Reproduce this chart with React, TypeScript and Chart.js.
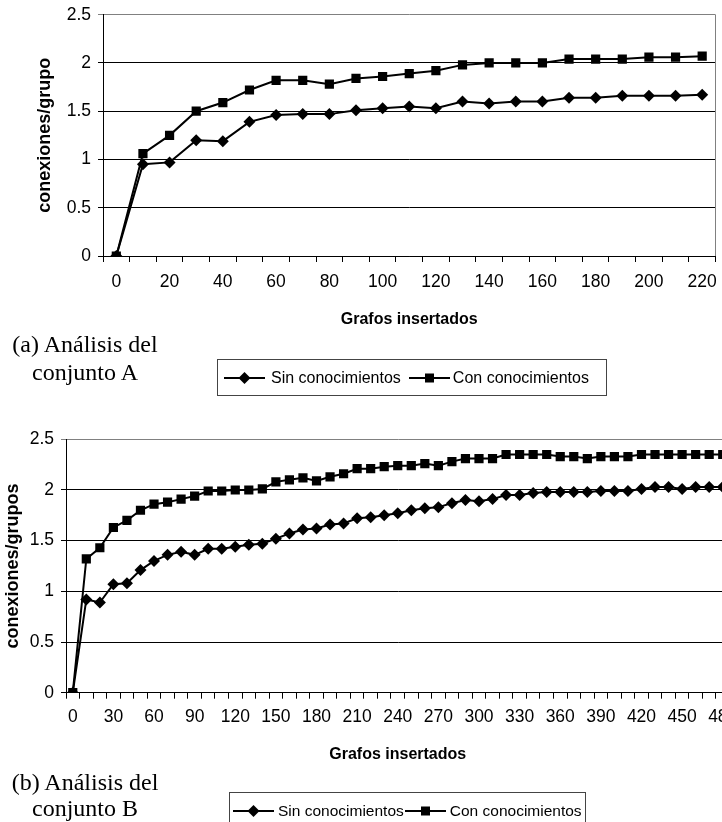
import React, { useEffect, useRef } from "react";
import { Chart, registerables } from "chart.js";

Chart.register(...registerables);

// ---------- data ----------
const categoriesA = [0, 10, 20, 30, 40, 50, 60, 70, 80, 90, 100, 110, 120, 130, 140, 150, 160, 170, 180, 190, 200, 210, 220];
const sinA = [0, 0.95, 0.97, 1.2, 1.19, 1.39, 1.46, 1.47, 1.47, 1.51, 1.53, 1.55, 1.53, 1.6, 1.58, 1.6, 1.6, 1.64, 1.64, 1.66, 1.66, 1.66, 1.67];
const conA = [0, 1.06, 1.25, 1.5, 1.59, 1.72, 1.82, 1.82, 1.78, 1.84, 1.86, 1.89, 1.92, 1.98, 2.0, 2.0, 2.0, 2.04, 2.04, 2.04, 2.06, 2.06, 2.07];

const categoriesB = [0, 10, 20, 30, 40, 50, 60, 70, 80, 90, 100, 110, 120, 130, 140, 150, 160, 170, 180, 190, 200, 210, 220, 230, 240, 250, 260, 270, 280, 290, 300, 310, 320, 330, 340, 350, 360, 370, 380, 390, 400, 410, 420, 430, 440, 450, 460, 470, 480];
const sinB = [0, 0.92, 0.89, 1.07, 1.08, 1.21, 1.3, 1.36, 1.39, 1.36, 1.42, 1.42, 1.44, 1.46, 1.47, 1.52, 1.57, 1.61, 1.62, 1.66, 1.67, 1.72, 1.73, 1.75, 1.77, 1.8, 1.82, 1.83, 1.87, 1.9, 1.89, 1.91, 1.95, 1.95, 1.97, 1.98, 1.98, 1.98, 1.98, 1.99, 1.99, 1.99, 2.01, 2.03, 2.03, 2.01, 2.03, 2.03, 2.03];
const conB = [0, 1.32, 1.43, 1.63, 1.7, 1.8, 1.86, 1.88, 1.91, 1.94, 1.99, 1.99, 2.0, 2.0, 2.01, 2.08, 2.1, 2.12, 2.09, 2.13, 2.16, 2.21, 2.21, 2.23, 2.24, 2.24, 2.26, 2.24, 2.28, 2.31, 2.31, 2.31, 2.35, 2.35, 2.35, 2.35, 2.33, 2.33, 2.31, 2.33, 2.33, 2.33, 2.35, 2.35, 2.35, 2.35, 2.35, 2.35, 2.35];

const yMin = 0;
const yMax = 2.5;
const yStep = 0.5;
const seriesNames = ["Sin conocimientos", "Con conocimientos"];
const xTitle = "Grafos insertados";
const yTitleA = "conexiones/grupo";
const yTitleB = "conexiones/grupos";
const captionA = ["(a) Análisis del", "conjunto A"];
const captionB = ["(b) Análisis del", "conjunto B"];

const SANS = "'Liberation Sans', Arial, Helvetica, sans-serif";
const NARROW = "'Liberation Sans Narrow', 'Arial Narrow', 'Liberation Sans', Arial, sans-serif";
const SERIF = "'Liberation Serif', 'Times New Roman', Times, serif";

const frameBorder = {
  id: "frameBorder",
  beforeDatasetsDraw(chart: any) {
    const { ctx, chartArea } = chart;
    ctx.save();
    ctx.strokeStyle = "#808080";
    ctx.lineWidth = 1;
    const x = Math.floor(chartArea.right) + 0.5;
    ctx.beginPath();
    ctx.moveTo(x, chartArea.top);
    ctx.lineTo(x, chartArea.bottom);
    ctx.stroke();
    ctx.restore();
  },
};

type PanelProps = {
  labels: number[];
  sin: number[];
  con: number[];
  width: number;
  height: number;
  top: number;
  pad: { top: number; right: number; bottom: number; left: number };
  yWidth: number;
  xHeight: number;
  every: number;
  yTitle: string;
  yTitlePad: number;
  xTickPad: number;
  tickSize: number;
};

function Panel(p: PanelProps) {
  const ref = useRef<HTMLCanvasElement | null>(null);
  useEffect(() => {
    if (!ref.current) return;
    const chart = new Chart(ref.current, {
      type: "line",
      data: {
        labels: p.labels.map(String),
        datasets: [
          {
            label: seriesNames[0],
            data: p.sin,
            borderColor: "#000",
            backgroundColor: "#000",
            borderWidth: 2,
            pointStyle: "rectRot",
            pointRadius: 6,
            pointBorderWidth: 0,
            pointBackgroundColor: "#000",
            tension: 0,
          },
          {
            label: seriesNames[1],
            data: p.con,
            borderColor: "#000",
            backgroundColor: "#000",
            borderWidth: 2,
            pointStyle: "rect",
            pointRadius: 6.5,
            pointBorderWidth: 0,
            pointBackgroundColor: "#000",
            tension: 0,
          },
        ],
      },
      options: {
        animation: false,
        responsive: false,
        maintainAspectRatio: false,
        layout: { padding: p.pad },
        plugins: { legend: { display: false }, tooltip: { enabled: false } },
        scales: {
          x: {
            type: "category",
            offset: true,
            grid: {
              display: true,
              drawOnChartArea: false,
              drawTicks: true,
              tickLength: 6,
              offset: true,
              color: "#000",
              lineWidth: 1,
            },
            border: { display: true, color: "#000", width: 1 },
            ticks: {
              autoSkip: false,
              maxRotation: 0,
              minRotation: 0,
              padding: p.xTickPad,
              color: "#000",
              font: { family: NARROW, size: p.tickSize },
              callback: (_v: any, i: number) => (i % p.every === 0 ? String(p.labels[i]) : ""),
            },
            title: {
              display: true,
              text: xTitle,
              color: "#000",
              font: { family: SANS, size: 16, weight: "bold" },
              padding: { top: 4, bottom: 4 },
            },
            afterFit: (s: any) => {
              s.height = p.xHeight;
              s.paddingLeft = 0;
              s.paddingRight = 0;
            },
          },
          y: {
            min: yMin,
            max: yMax,
            ticks: {
              stepSize: yStep,
              padding: 7,
              color: "#000",
              font: { family: NARROW, size: p.tickSize },
              callback: (v: any) => String(Math.round(Number(v) * 10) / 10),
            },
            grid: {
              color: (c: any) => (c.tick && c.tick.value === yMax ? "#808080" : "#000"),
              tickLength: 5,
              drawTicks: true,
              lineWidth: 1,
            },
            border: { display: true, color: "#000", width: 1 },
            title: {
              display: true,
              text: p.yTitle,
              color: "#000",
              font: { family: SANS, size: 18, weight: "bold" },
              padding: { top: p.yTitlePad, bottom: 0 },
            },
            afterFit: (s: any) => {
              s.width = p.yWidth;
              s.paddingTop = 0;
              s.paddingBottom = 0;
            },
          },
        },
      } as any,
      plugins: [frameBorder],
    });
    return () => chart.destroy();
  }, []);
  return (
    <canvas
      ref={ref}
      width={p.width}
      height={p.height}
      style={{ position: "absolute", left: 0, top: p.top, width: p.width, height: p.height }}
    />
  );
}

function Symbol({ kind }: { kind: "diamond" | "square" }) {
  return (
    <svg width={41} height={14} style={{ display: "block", flex: "none" }}>
      <line x1={0} y1={7} x2={41} y2={7} stroke="#000" strokeWidth={2} />
      {kind === "diamond" ? (
        <polygon points="20.5,1 26.5,7 20.5,13 14.5,7" fill="#000" />
      ) : (
        <rect x={16} y={2.5} width={9} height={9} fill="#000" />
      )}
    </svg>
  );
}

function Legend({ left, top, width, size, gaps }: { left: number; top: number; width: number; size: number; gaps: number[] }) {
  return (
    <div
      style={{
        position: "absolute",
        left,
        top,
        width,
        height: 37,
        boxSizing: "border-box",
        border: "1px solid #444",
        display: "flex",
        alignItems: "center",
        paddingLeft: gaps[0],
        fontFamily: SANS,
        fontSize: size,
        color: "#000",
        whiteSpace: "nowrap",
      }}
    >
      <Symbol kind="diamond" />
      <span style={{ marginLeft: gaps[1] }}>{seriesNames[0]}</span>
      <span style={{ marginLeft: gaps[2] }}>
        <Symbol kind="square" />
      </span>
      <span style={{ marginLeft: gaps[3] }}>{seriesNames[1]}</span>
    </div>
  );
}

function Caption({ top, lines, lh }: { top: number; lines: string[]; lh: number }) {
  return (
    <div
      style={{
        position: "absolute",
        left: 10,
        top,
        width: 150,
        textAlign: "center",
        fontFamily: SERIF,
        fontSize: 24,
        lineHeight: lh + "px",
        color: "#000",
        whiteSpace: "nowrap",
      }}
    >
      {lines[0]}
      <br />
      {lines[1]}
    </div>
  );
}

export default function App() {
  return (
    <div
      style={{
        position: "absolute",
        left: 0,
        top: 0,
        width: 722,
        height: 822,
        overflow: "hidden",
        background: "#fff",
      }}
    >
      <Panel
        labels={categoriesA}
        sin={sinA}
        con={conA}
        width={722}
        height={345}
        top={0}
        pad={{ top: 14.7, right: 1.3, bottom: 11.4, left: 0 }}
        yWidth={103}
        xHeight={77.6}
        every={2}
        yTitle={yTitleA}
        yTitlePad={34.2}
        xTickPad={10}
        tickSize={17.5}
      />
      <Caption top={331} lines={captionA} lh={27.7} />
      <Legend left={217} top={359} width={390} size={16} gaps={[6, 6, 8, 3]} />

      <Panel
        labels={categoriesB}
        sin={sinB}
        con={conB}
        width={736}
        height={402}
        top={420}
        pad={{ top: 19.3, right: 1.6, bottom: 53.4, left: 0 }}
        yWidth={66}
        xHeight={75.9}
        every={3}
        yTitle={yTitleB}
        yTitlePad={2}
        xTickPad={8}
        tickSize={17.5}
      />
      <Caption top={768.5} lines={captionB} lh={26.5} />
      <Legend left={229} top={792} width={357} size={15.5} gaps={[3, 4, 1, 4]} />
    </div>
  );
}
